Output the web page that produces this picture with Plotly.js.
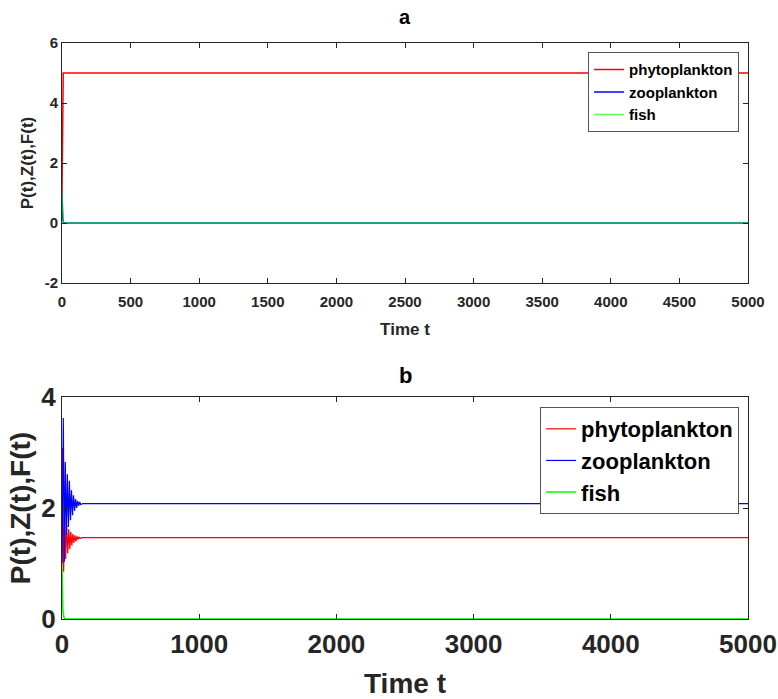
<!DOCTYPE html>
<html>
<head>
<meta charset="utf-8">
<script src="https://cdn.plot.ly/plotly-3.0.1.min.js"></script>
<style>html,body{margin:0;padding:0;background:#fff;}#chart{width:778px;height:699px;}</style>
</head>
<body>
<div id="chart"></div>
<script>
// ---- Panel a data ----
const seriesNames = ["phytoplankton", "zooplankton", "fish"];
const tPhytoA = [0, 4, 9, 5000];
const phytoA  = [1.0, 4.3, 5.0, 5.0];
const tZooA   = [0, 5, 12, 5000];
const zooA    = [1.0, 0.15, 0.0, 0.0];
const tFishA  = [0, 4, 10, 5000];
const fishA   = [1.0, 0.12, 0.0, 0.0];

// ---- Panel b data ----
const tPhytoB = [0, 3, 12, 19, 27, 34, 42, 49, 57, 64, 72, 79, 87, 94, 102, 109, 117, 124, 132, 145, 5000];
const phytoB  = [1.0, 3.08, 0.85, 1.81, 1.08, 1.70, 1.18, 1.62, 1.26, 1.57, 1.32, 1.53, 1.37, 1.51, 1.40, 1.49, 1.43, 1.48, 1.45, 1.465, 1.465];
const tZooB   = [0, 9.5, 17, 24, 32, 39, 47, 54, 62, 69, 77, 84, 92, 99, 107, 114, 122, 129, 137, 150, 5000];
const zooB    = [1.0, 3.62, 1.03, 2.83, 1.51, 2.61, 1.66, 2.49, 1.78, 2.32, 1.87, 2.23, 1.95, 2.16, 2.00, 2.13, 2.04, 2.11, 2.06, 2.08, 2.08];
const tFishB  = [0, 3, 6, 12, 20, 5000];
const fishB   = [1.0, 0.45, 0.2, 0.05, 0.0, 0.0];

// ---- Ticks ----
const xTicksA = [0, 500, 1000, 1500, 2000, 2500, 3000, 3500, 4000, 4500, 5000];
const yTicksA = [-2, 0, 2, 4, 6];
const xTicksB = [0, 1000, 2000, 3000, 4000, 5000];
const yTicksB = [0, 2, 4];

const RED = "#ff0000", BLUE = "#0000ff", GREEN = "#00ff00";
const FONT = "Liberation Sans, Arial, Helvetica, sans-serif";
const INK = "#262626";

const traces = [
  {x: tPhytoA, y: phytoA, name: seriesNames[0], xaxis: "x", yaxis: "y", legend: "legend", mode: "lines", line: {color: RED, width: 1.5}},
  {x: tZooA, y: zooA, name: seriesNames[1], xaxis: "x", yaxis: "y", legend: "legend", mode: "lines", line: {color: BLUE, width: 1.5}},
  {x: tFishA, y: fishA, name: seriesNames[2], xaxis: "x", yaxis: "y", legend: "legend", mode: "lines", opacity: 0.65, line: {color: GREEN, width: 1.5}},
  {x: tPhytoB, y: phytoB, name: seriesNames[0], xaxis: "x2", yaxis: "y2", legend: "legend2", mode: "lines", line: {color: RED, width: 1.2}},
  {x: tZooB, y: zooB, name: seriesNames[1], xaxis: "x2", yaxis: "y2", legend: "legend2", mode: "lines", line: {color: BLUE, width: 1.2}},
  {x: tFishB, y: fishB, name: seriesNames[2], xaxis: "x2", yaxis: "y2", legend: "legend2", mode: "lines", line: {color: GREEN, width: 1.5}}
];

function axisBase(extra) {
  return Object.assign({
    showline: true, mirror: "ticks", linecolor: INK, linewidth: 1,
    ticks: "inside", ticklen: 5, tickcolor: INK, tickwidth: 1,
    showgrid: false, zeroline: false
  }, extra);
}

// plot area: x 62..748 px, top panel y 43..283, bottom panel y 397..619
const layout = {
  width: 778, height: 699,
  margin: {l: 62, r: 30, t: 43, b: 80},
  paper_bgcolor: "#ffffff", plot_bgcolor: "#ffffff",
  font: {family: FONT, color: INK},
  xaxis: axisBase({domain: [0, 1], anchor: "y", range: [0, 5000], tickvals: xTicksA, ticktext: xTicksA.map(String),
    tickfont: {size: 15, family: FONT, weight: "bold", color: INK}, ticklabelstandoff: 5,
    title: {text: "<b>Time t</b>", font: {size: 17, family: FONT, color: INK}, standoff: 14}}),
  yaxis: axisBase({domain: [0.5833, 1], anchor: "x", range: [-2, 6], tickvals: yTicksA, ticktext: yTicksA.map(String),
    tickfont: {size: 15, family: FONT, weight: "bold", color: INK},
    title: {text: "<b>P(t),Z(t),F(t)</b>", font: {size: 17, family: FONT, color: INK}, standoff: 6}}),
  xaxis2: axisBase({domain: [0, 1], anchor: "y2", range: [0, 5000], tickvals: xTicksB, ticktext: xTicksB.map(String),
    tickfont: {size: 26, family: FONT, weight: "bold", color: INK}, ticklabelstandoff: 2,
    title: {text: "<b>Time t</b>", font: {size: 28, family: FONT, color: INK}, standoff: 16}}),
  yaxis2: axisBase({domain: [0, 0.3854], anchor: "x2", range: [0, 4], tickvals: yTicksB, ticktext: yTicksB.map(String),
    tickfont: {size: 26, family: FONT, weight: "bold", color: INK},
    title: {text: "<b>P(t),Z(t),F(t)</b>", font: {size: 28, family: FONT, color: INK}, standoff: 2}}),
  legend: {x: 0.987, y: 0.984, xanchor: "right", yanchor: "top", bgcolor: "#ffffff",
    bordercolor: "#555555", borderwidth: 1, font: {size: 15, family: FONT, weight: "bold", color: "#000"},
    tracegroupgap: 0, itemwidth: 30},
  legend2: {x: 0.987, y: 0.368, xanchor: "right", yanchor: "top", bgcolor: "#ffffff",
    bordercolor: "#555555", borderwidth: 1, font: {size: 22, family: FONT, weight: "bold", color: "#000"},
    tracegroupgap: 0, itemwidth: 30},
  annotations: [
    {text: "<b>a</b>", xref: "paper", yref: "paper", x: 0.5, y: 1.045, xanchor: "center", yanchor: "middle", showarrow: false,
      font: {size: 20, family: FONT, color: "#000"}},
    {text: "<b>b</b>", xref: "paper", yref: "paper", x: 0.5, y: 0.4236, xanchor: "center", yanchor: "middle", showarrow: false,
      font: {size: 22, family: FONT, color: "#000"}}
  ],
  showlegend: true
};

Plotly.newPlot("chart", traces, layout, {staticPlot: true, displayModeBar: false});
</script>
</body>
</html>
